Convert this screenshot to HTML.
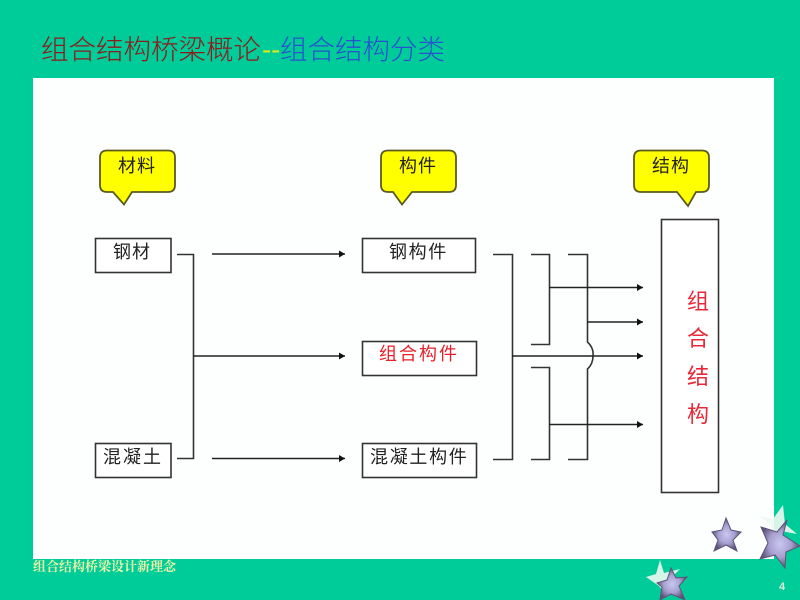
<!DOCTYPE html>
<html>
<head>
<meta charset="utf-8">
<style>
html,body{margin:0;padding:0;background:#00cc99;width:800px;height:600px;overflow:hidden}
svg{display:block}
text{font-family:"Liberation Sans","Noto Sans CJK SC",sans-serif}
.l{font-size:18px;fill:#222}
.t{font-size:27.5px;font-weight:300}
</style>
</head>
<body>
<svg width="800" height="600" viewBox="0 0 800 600" xmlns="http://www.w3.org/2000/svg">
<defs>
<marker id="a" markerUnits="userSpaceOnUse" markerWidth="8" markerHeight="8" refX="6" refY="3.500" orient="auto"><path d="M0 0L6 3.500L0 7z" fill="#111"/></marker>
<radialGradient id="s"><stop offset="0" stop-color="#c8c8f0"/><stop offset=".55" stop-color="#a8a0d0"/><stop offset="1" stop-color="#5c5478"/></radialGradient>
</defs>
<rect width="800" height="600" fill="#00cc99"/>
<rect x="33" y="78" width="741" height="481" fill="#fdffff"/>

<text class="t" x="41" y="59" fill="#8f1a1a">组合结构桥梁概论</text>
<text x="262" y="59" font-size="27.5" fill="#d8e820">--</text>
<text class="t" x="280" y="59" fill="#2a50d0">组合结构分类</text>

<g fill="#ffff00" stroke="#5a5a20" stroke-width="1.800">
<path d="M107 150.500H168Q175 150.500 175 157.500V185Q175 192 168 192H132L124 204.500L113 192H107Q100 192 100 185V157.500Q100 150.500 107 150.500Z"/>
<path d="M388 150.500H449Q456 150.500 456 157.500V185Q456 192 449 192H412L402 204.500L393 192H388Q381 192 381 185V157.500Q381 150.500 388 150.500Z"/>
<path d="M641 150.500H702Q709 150.500 709 157.500V185Q709 192 702 192H696L688 206L677 192H641Q634 192 634 185V157.500Q634 150.500 641 150.500Z"/>
</g>
<text class="l" x="118" y="172" letter-spacing="1">材料</text>
<text class="l" x="399" y="172" letter-spacing="1">构件</text>
<text class="l" x="652" y="172" letter-spacing="1">结构</text>

<g fill="#fff" stroke="#333" stroke-width="1.600">
<rect x="95.500" y="238.500" width="75.500" height="34"/>
<rect x="95.500" y="443.500" width="75.500" height="34"/>
<rect x="362.500" y="238.500" width="113" height="34"/>
<rect x="362.500" y="341.500" width="114" height="34"/>
<rect x="362.500" y="443.500" width="114" height="34"/>
<rect x="661.500" y="219.500" width="57" height="273"/>
</g>
<text class="l" x="113" y="258" letter-spacing="1">钢材</text>
<text class="l" x="103" y="463" letter-spacing="2">混凝土</text>
<text class="l" x="389" y="258" letter-spacing="1.600">钢构件</text>
<text class="l" x="379" y="360" letter-spacing="2" style="fill:#e8202a">组合构件</text>
<text class="l" x="370" y="463" letter-spacing="1.700">混凝土构件</text>

<g font-size="22" fill="#e82838" text-anchor="middle">
<text x="698" y="309">组</text>
<text x="698" y="346">合</text>
<text x="698" y="384">结</text>
<text x="698" y="422">构</text>
</g>

<g fill="none" stroke="#333" stroke-width="1.600">
<path d="M177 254.500H193.500V458.500H177"/>
<path d="M493 254.500H512.500V459.500H493"/>
<path d="M531 254.500H549.500V344.500H531"/>
<path d="M531 367.500H549.500V459.500H531"/>
<path d="M568 254.500H587.500V342Q594 348 593 356Q593 364 587.500 369V459.500H568"/>
</g>
<g stroke="#222" stroke-width="1.500" fill="none">
<path d="M212 254H345" marker-end="url(#a)"/>
<path d="M193 356H345" marker-end="url(#a)"/>
<path d="M212 458.500H345" marker-end="url(#a)"/>
<path d="M549 287.500H643" marker-end="url(#a)"/>
<path d="M587 322H643" marker-end="url(#a)"/>
<path d="M512 356H643" marker-end="url(#a)"/>
<path d="M549 424.500H643" marker-end="url(#a)"/>
</g>

<polygon points="783,505 785,524 797,534 781,531 772,540 771,526 760,516 773,519" fill="#eef8f2" opacity=".9"/>
<polygon points="660,560 664,573 680,569 669,580 668,597 659,586 646,577 656,574" fill="#eef8f2" opacity=".9"/>
<polygon points="726,518 731,530 741,532 733,540 737,551 726,545 714,551 718,540 712,532 722,530" fill="url(#s)" stroke="#5c5478" stroke-width="1"/>
<polygon points="787,520 783,535 800,546 786,552 785,568 775,555 760,559 768,543 761,527 777,532" fill="url(#s)" stroke="#5c5478" stroke-width="1"/>
<polygon points="671,568 676,578 687,577 679,586 685,600 671,594 660,600 662,587 657,583 667,580" fill="url(#s)" stroke="#5c5478" stroke-width="1"/>

<text x="33" y="571" font-size="13" font-weight="bold" fill="#eef5a8" style="font-family:'Liberation Serif','Noto Serif CJK SC',serif">组合结构桥梁设计新理念</text>
<text x="779" y="590" font-size="11" font-weight="bold" fill="#dff0d8">4</text>
</svg>
</body>
</html>
